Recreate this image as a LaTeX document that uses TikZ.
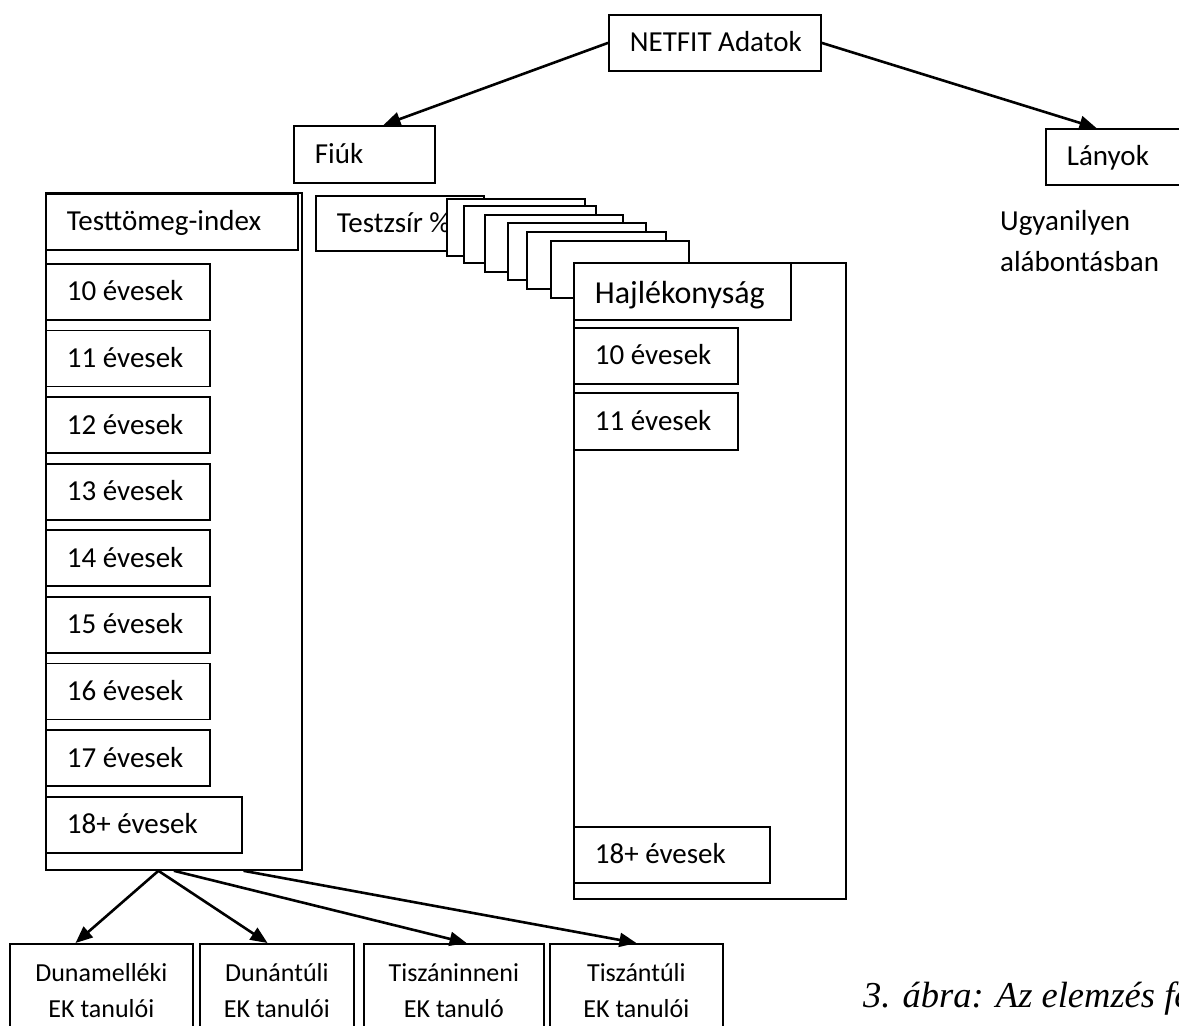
\documentclass[tikz,border=0pt]{standalone}
\usepackage{fontspec}
\setmainfont{Carlito}
\newfontfamily\captionfont{Liberation Serif}
\usetikzlibrary{arrows.meta,calc}
\newcommand{\boxfont}{\fontsize{29}{41}\selectfont}
\newcommand{\headfont}{\fontsize{32}{40}\selectfont}
\newcommand{\regfont}{\fontsize{26}{36}\selectfont}
\newcommand{\labelbox}[6][]{\node[labelbox,#1] (#2) at (#3,#4) {\makebox[#5pt][l]{#6}};}
\tikzset{
  boxline/.style={draw, fill=white, line width=1.8pt, anchor=north west, inner sep=0pt},
  labelbox/.style={boxline, inner xsep=21pt, minimum height=56pt, text height=21pt, text depth=3pt, font=\boxfont},
  regionbox/.style={boxline, minimum height=94pt, align=center, font=\regfont},
  conn/.style={line width=2.6pt, -{Triangle[length=17pt,width=14pt]}},
}

\begin{document}
\begin{tikzpicture}[x=1pt,y=-1pt]
\useasboundingbox (0,0) rectangle (1179,1026);
\fill[white] (0,0) rectangle (1179,1026);
\clip (0,0) rectangle (1179,1026);
\labelbox{netfit}{608}{14}{170}{NETFIT Adatok}
\labelbox[minimum height=57pt]{boys}{293}{125}{99}{Fiúk}
\labelbox{girls}{1045}{128}{113}{Lányok}
\node[anchor=north west, align=left, inner sep=0pt, font=\boxfont] (same) at (1000,210) {Ugyanilyen\\alábontásban};
% testtomeg-index oszlop
\node[boxline, minimum width=256pt, minimum height=677pt] (bmi) at (45,192) {};
\labelbox{bmihead}{45}{193}{210}{Testtömeg-index}
\foreach \i/\age in {0/10,1/11,2/12,3/13,4/14,5/15,6/16,7/17}
  \labelbox{bmi\age}{45}{263+66.6*\i}{122}{\age\ évesek}
\labelbox{bmi18}{45}{796}{154}{18+ évesek}
% egymas mogotti lapok
\labelbox[minimum height=55pt]{fat}{315}{195}{126}{Testzsír \%}
\foreach \cx/\cy/\cw in {447/199/138,464/206/132,485/215/138,508/223/138,527/232/139,551/241/138}
  \draw[boxline] (\cx,\cy) rectangle ++(\cw,57);
\node[boxline, minimum width=272pt, minimum height=636pt] (flex) at (573,262) {};
\labelbox[font=\headfont, text height=25pt, text depth=0pt, minimum height=57pt]{flexhead}{573}{262}{175}{Hajlékonyság}
\labelbox{flex10}{573}{327}{122}{10 évesek}
\labelbox[minimum height=57pt]{flex11}{573}{392}{122}{11 évesek}
\labelbox{flex18}{573}{826}{154}{18+ évesek}
% regiok
\node[regionbox, minimum width=183pt] (dunam) at (9,943) {Dunamelléki\\EK tanulói};
\node[regionbox, minimum width=154pt] (dunant) at (199,943) {Dunántúli\\EK tanulói};
\node[regionbox, minimum width=180pt] (tiszin) at (363,943) {Tiszáninneni\\EK tanuló};
\node[regionbox, minimum width=173pt] (tiszat) at (549,943) {Tiszántúli\\EK tanulói};
\node[anchor=base west, inner sep=0pt, font=\captionfont\itshape\fontsize{36.5}{40}\selectfont] (caption) at (863,1007) {3. ábra: Az elemzés fe};
\draw[conn] (netfit.west) -- (boys.57);
\draw[conn] (netfit.east) -- (girls.133);
\draw[conn] ($(bmi.south west)!0.44!(bmi.south east)$) -- ($(dunam.north west)!0.36!(dunam.north east)$);
\draw[conn] ($(bmi.south west)!0.44!(bmi.south east)$) -- ($(dunant.north west)!0.44!(dunant.north east)$);
\draw[conn] ($(bmi.south west)!0.5!(bmi.south east)$) -- ($(tiszin.north west)!0.57!(tiszin.north east)$);
\draw[conn] ($(bmi.south west)!0.77!(bmi.south east)$) -- (tiszat.north);
\end{tikzpicture}
\end{document}
